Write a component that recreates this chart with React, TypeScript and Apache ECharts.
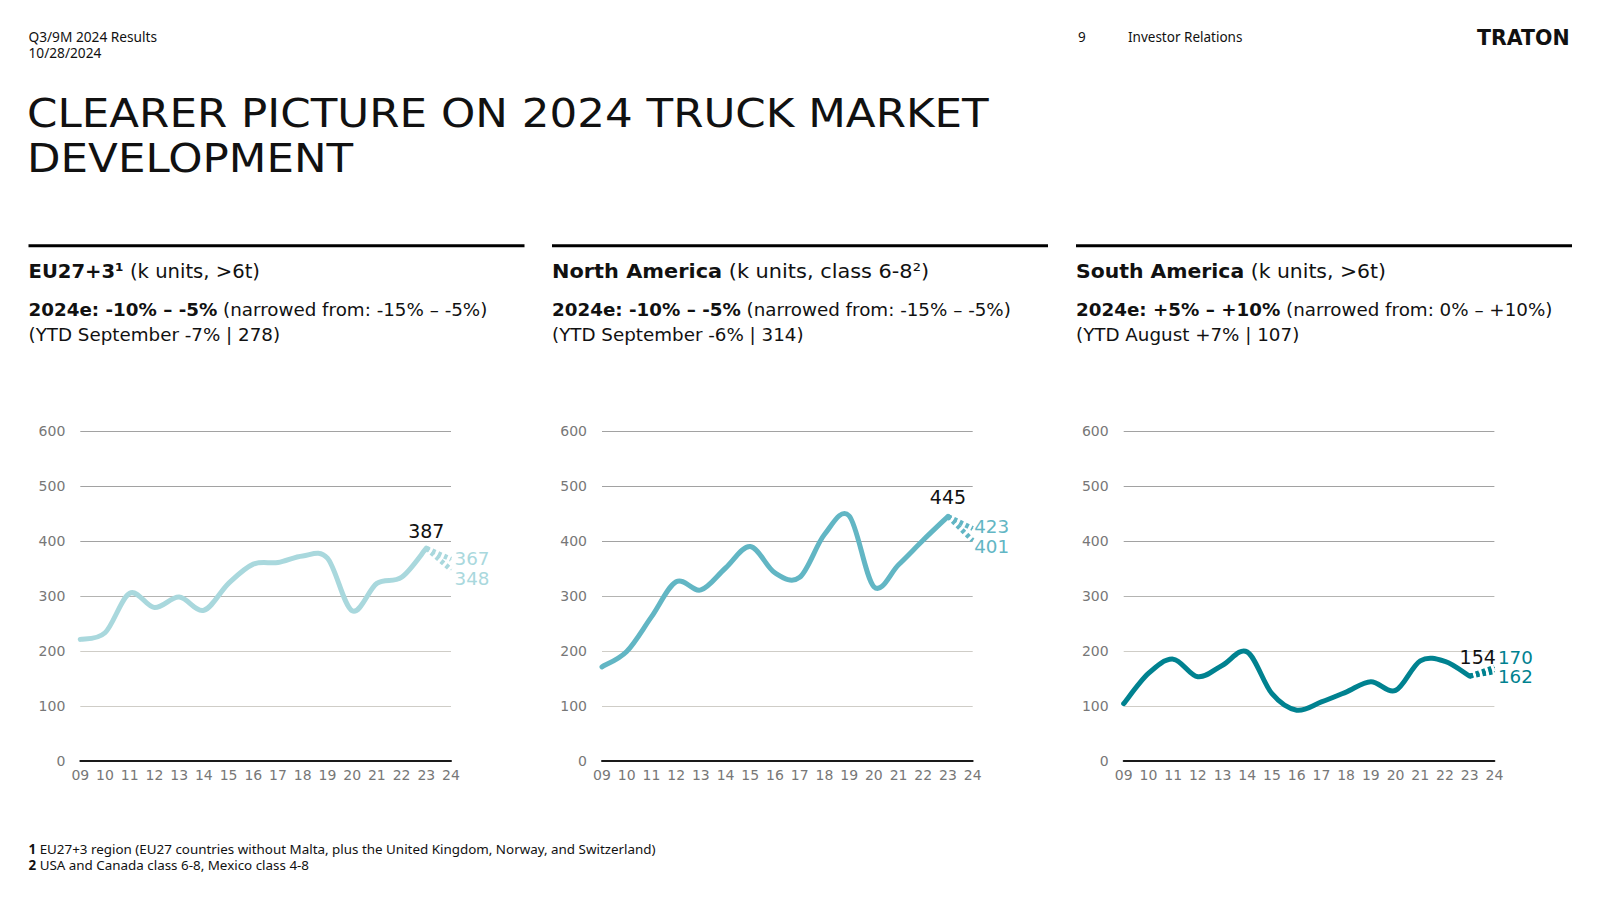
import React, { useEffect, useRef } from "react";
import * as echarts from "echarts";

// ---------- data ----------
const YEARS = ["09", "10", "11", "12", "13", "14", "15", "16", "17", "18", "19", "20", "21", "22", "23", "24"];

const EU_ACTUAL = [221, 233, 305, 279, 298, 274, 323, 358, 361, 373, 369, 273, 323, 334, 387];
const EU_FORECAST = [367, 348];

const NA_ACTUAL = [171, 199, 262, 326, 311, 351, 390, 342, 334, 412, 446, 317, 357, 402, 445];
const NA_FORECAST = [423, 401];

const SA_ACTUAL = [104, 159, 185, 153, 174, 198, 122, 92, 107, 125, 144, 128, 182, 181, 154];
const SA_FORECAST = [170, 162];

const Y_MIN = 0;
const Y_MAX = 600;
const Y_STEP = 100;

const PANEL_REGION = ["EU27+3¹", "North America", "South America"];
const PANEL_UNIT = [" (k units, >6t)", " (k units, class 6-8²)", " (k units, >6t)"];
const PANEL_OUTLOOK = ["2024e: -10% – -5%", "2024e: -10% – -5%", "2024e: +5% – +10%"];
const PANEL_NARROWED = [" (narrowed from: -15% – -5%)", " (narrowed from: -15% – -5%)", " (narrowed from: 0% – +10%)"];
const PANEL_YTD = ["(YTD September -7% | 278)", "(YTD September -6% | 314)", "(YTD August +7% | 107)"];

const FOOTNOTES = [
  ["1", " EU27+3 region (EU27 countries without Malta, plus the United Kingdom, Norway, and Switzerland)"],
  ["2", " USA and Canada class 6-8, Mexico class 4-8"],
];

// ---------- styles ----------
const SERIES_SETS = [
  { actual: EU_ACTUAL, forecast: EU_FORECAST, color: "#a9d8dd" },
  { actual: NA_ACTUAL, forecast: NA_FORECAST, color: "#62b6c4" },
  { actual: SA_ACTUAL, forecast: SA_FORECAST, color: "#008290" },
];
const GRID_LEFT = [80.3, 602, 1123.7];
const GRID_TOP = 431.3;
const GRID_W = 370.7;
const GRID_H = 329.4;
const PANEL_X = [28.5, 552, 1076];
const PANEL_W = 496;
const LINE1_SCALE = [1, 1.065, 1.04];
const LABEL_OFFS = [
  { top: [0, 0], f1: [0, -1], f2: [0, 9] },
  { top: [0, -2], f1: [-2, -2], f2: [-2, 6] },
  { top: [8, -1], f1: [0, -10], f2: [0, 5] },
];

const MAIN_FONT = "DejaVu Sans";
const SMALL_FONT = "Noto Sans";

// Catmull-Rom style smooth path through pixel points (uniform in x)
function smoothPath(pts: number[][]): string {
  if (!pts.length) return "";
  let d = `M${pts[0][0]},${pts[0][1]}`;
  for (let k = 0; k < pts.length - 1; k++) {
    const p0 = pts[k - 1] || pts[k];
    const p1 = pts[k];
    const p2 = pts[k + 1];
    const p3 = pts[k + 2] || pts[k + 1];
    const c1x = p1[0] + (p2[0] - p0[0]) / 6;
    const c1y = p1[1] + (p2[1] - p0[1]) / 6;
    const c2x = p2[0] - (p3[0] - p1[0]) / 6;
    const c2y = p2[1] - (p3[1] - p1[1]) / 6;
    d += ` C${c1x},${c1y} ${c2x},${c2y} ${p2[0]},${p2[1]}`;
  }
  return d;
}

export default function App() {
  const ref = useRef<HTMLDivElement>(null);

  useEffect(() => {
    if (!ref.current) return;
    const chart = echarts.init(ref.current, null, { renderer: "svg" });

    const grids: any[] = [];
    const xAxes: any[] = [];
    const yAxes: any[] = [];
    const series: any[] = [];

    SERIES_SETS.forEach((set, i) => {
      grids.push({ left: GRID_LEFT[i], top: GRID_TOP, width: GRID_W, height: GRID_H, containLabel: false });
      xAxes.push({
        type: "category",
        gridIndex: i,
        data: YEARS,
        boundaryGap: false,
        axisTick: { show: false },
        axisLine: { lineStyle: { color: "#1a1a1a", width: 2 } },
        axisLabel: { color: "#777777", fontSize: 14, fontFamily: MAIN_FONT, margin: 7, interval: 0 },
        splitLine: { show: false },
      });
      yAxes.push({
        type: "value",
        gridIndex: i,
        min: Y_MIN,
        max: Y_MAX,
        interval: Y_STEP,
        axisLine: { show: false },
        axisTick: { show: false },
        axisLabel: { color: "#777777", fontSize: 14, fontFamily: MAIN_FONT, margin: 15 },
        splitLine: {
          lineStyle: {
            color: ["#cfcdc7", "#cfcdc7", "#cfcdc7", "#b4b4b2", "#a2a2a2", "#a2a2a2", "#a2a2a2"],
            width: 1,
          },
        },
      });

      const n = set.actual.length;
      const last = set.actual[n - 1];
      const offs = LABEL_OFFS[i];
      const color = set.color;

      // actual history: smooth curve drawn via the axes' scales
      series.push({
        type: "custom",
        xAxisIndex: i,
        yAxisIndex: i,
        data: set.actual.map((v, k) => [k, v]),
        silent: true,
        z: 3,
        renderItem: (params: any, api: any) => {
          if (params.dataIndex !== 0) return null;
          const pts = set.actual.map((v, k) => api.coord([k, v]));
          return {
            type: "path",
            shape: { pathData: smoothPath(pts) },
            style: {
              fill: "none",
              stroke: color,
              lineWidth: 5,
              lineCap: "round",
              lineJoin: "round",
            },
          };
        },
      });

      set.forecast.forEach((fv, j) => {
        const data: any[] = set.actual.map((_, k) => {
          if (k !== n - 1) return null;
          if (j !== 0) return last;
          return {
            value: last,
            label: {
              show: true,
              position: "top",
              distance: i === 2 ? 9 : 8,
              offset: offs.top,
              color: "#111111",
              fontSize: 19,
              lineHeight: 17,
              fontFamily: MAIN_FONT,
              formatter: "{c}",
            },
          };
        });
        data.push({
          value: fv,
          label: {
            show: true,
            position: "right",
            distance: 3,
            offset: j === 0 ? offs.f1 : offs.f2,
            color,
            fontSize: 18.3,
            lineHeight: 16,
            fontFamily: MAIN_FONT,
            formatter: "{c}",
          },
        });
        series.push({
          type: "line",
          xAxisIndex: i,
          yAxisIndex: i,
          data,
          smooth: false,
          connectNulls: false,
          symbol: "circle",
          symbolSize: 1,
          showAllSymbol: true,
          itemStyle: { color },
          lineStyle: { color, width: 5, type: [3.5, 3], cap: "butt" },
          z: 2,
          silent: true,
        });
      });
    });

    const graphic: any[] = [];
    const txt = (x: number, y: number, text: string, size: number, font: string, extra: any = {}, el: any = {}) => ({
      type: "text",
      x,
      y,
      silent: true,
      ...el,
      style: {
        text,
        fontSize: size,
        fontFamily: font,
        fill: "#111111",
        textAlign: "left",
        textVerticalAlign: "middle",
        ...extra,
      },
    });

    graphic.push(txt(28.5, 36.5, "Q3/9M 2024 Results", 13.7, SMALL_FONT));
    graphic.push(txt(28.5, 52.5, "10/28/2024", 13.7, SMALL_FONT));
    graphic.push(txt(1078, 36.5, "9", 13.5, SMALL_FONT));
    graphic.push(txt(1128, 36.5, "Investor Relations", 13.5, SMALL_FONT));
    graphic.push(txt(1477, 37.5, "TRATON", 20.5, MAIN_FONT, { fontWeight: "bold" }));
    graphic.push(txt(27, 113.5, "CLEARER PICTURE ON 2024 TRUCK MARKET", 39, MAIN_FONT, {}, { scaleX: 1.118 }));
    graphic.push(txt(27, 158.5, "DEVELOPMENT", 39, MAIN_FONT, {}, { scaleX: 1.118 }));

    PANEL_X.forEach((px, i) => {
      graphic.push({
        type: "rect",
        silent: true,
        shape: { x: px, y: 244.2, width: PANEL_W, height: 3 },
        style: { fill: "#000000" },
      });
      const rich1 = {
        b: { fontFamily: MAIN_FONT, fontSize: 19.6, fontWeight: "bold", fill: "#111111" },
        r: { fontFamily: MAIN_FONT, fontSize: 19.6, fill: "#111111" },
      };
      const rich2 = {
        b: { fontFamily: MAIN_FONT, fontSize: 18.3, fontWeight: "bold", fill: "#111111" },
        r: { fontFamily: MAIN_FONT, fontSize: 18.3, fill: "#111111" },
      };
      graphic.push(
        txt(px, 271, `{b|${PANEL_REGION[i]}}{r|${PANEL_UNIT[i]}}`, 19.6, MAIN_FONT, { rich: rich1 }, { scaleX: LINE1_SCALE[i] })
      );
      graphic.push(
        txt(px, 309.5, `{b|${PANEL_OUTLOOK[i]}}{r|${PANEL_NARROWED[i]}}`, 18.3, MAIN_FONT, { rich: rich2 })
      );
      graphic.push(txt(px, 334.5, PANEL_YTD[i], 18.3, MAIN_FONT));
    });

    FOOTNOTES.forEach((f, k) => {
      graphic.push(
        txt(28.5, 849 + k * 16.3, `{b|${f[0]}}{r|${f[1]}}`, 13.4, SMALL_FONT, {
          rich: {
            b: { fontFamily: SMALL_FONT, fontSize: 13.4, fontWeight: "bold", fill: "#111111" },
            r: { fontFamily: SMALL_FONT, fontSize: 13.4, fill: "#111111" },
          },
        })
      );
    });

    chart.setOption({
      animation: false,
      backgroundColor: "#ffffff",
      grid: grids,
      xAxis: xAxes,
      yAxis: yAxes,
      series,
      graphic,
    });

    return () => chart.dispose();
  }, []);

  return (
    <div
      ref={ref}
      style={{ position: "fixed", left: 0, top: 0, width: 1600, height: 900, background: "#ffffff" }}
    />
  );
}
